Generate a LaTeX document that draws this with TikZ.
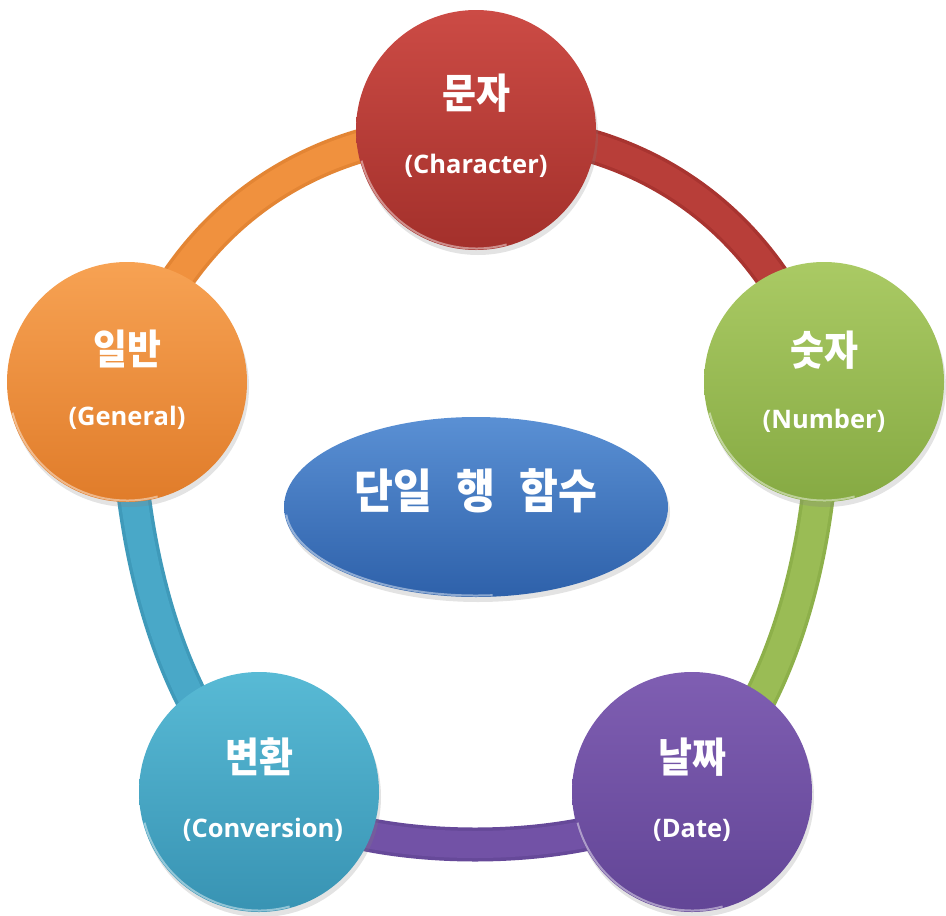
\documentclass[tikz,border=0pt]{standalone}
\usepackage{fontspec}
\newfontfamily\kr{Noto Sans CJK KR}[FakeStretch=0.9]
\newfontfamily\en{Open Sans}
\usetikzlibrary{shapes.geometric,shadows}
\definecolor{redT}{HTML}{CC4B45}\definecolor{redB}{HTML}{A3302B}\definecolor{redL}{HTML}{B83E39}\definecolor{redD}{HTML}{A83430}
\definecolor{grnT}{HTML}{AACA64}\definecolor{grnB}{HTML}{86AA43}\definecolor{grnL}{HTML}{9ABC55}\definecolor{grnD}{HTML}{8DB04A}
\definecolor{purT}{HTML}{7F5EB2}\definecolor{purB}{HTML}{624596}\definecolor{purL}{HTML}{7252A6}\definecolor{purD}{HTML}{664999}
\definecolor{cyaT}{HTML}{58BAD5}\definecolor{cyaB}{HTML}{3893B3}\definecolor{cyaL}{HTML}{49A8C8}\definecolor{cyaD}{HTML}{3F9ABA}
\definecolor{oraT}{HTML}{F7A253}\definecolor{oraB}{HTML}{E07C2A}\definecolor{oraL}{HTML}{F0913E}\definecolor{oraD}{HTML}{E38534}
\definecolor{bluT}{HTML}{5A90D4}\definecolor{bluB}{HTML}{2E61AA}
\tikzset{
  x=1pt, y=1pt,
  ball/.style={circle, minimum size=240pt, inner sep=0pt, draw=none,
    drop shadow={shadow xshift=2pt, shadow yshift=-5pt, opacity=0.22}},
  hubshape/.style={ellipse, minimum width=384pt, minimum height=180pt, inner sep=0pt, draw=none,
    top color=bluT, bottom color=bluB,
    drop shadow={shadow xshift=2pt, shadow yshift=-5pt, opacity=0.22}},
  bandout/.style={line width=34pt},
  bandin/.style={line width=27pt},
  rim/.style={draw=white, opacity=0.45, line width=2pt},
  kor/.style={text=white, inner sep=0pt, font=\kr\bfseries\fontsize{41}{45}\selectfont},
  eng/.style={text=white, inner sep=0pt, font=\en\bfseries\fontsize{25.5}{30}\selectfont},
  hubtext/.style={text=white, inner sep=0pt, font=\kr\bfseries\fontsize{47}{52}\selectfont},
}
\begin{document}
\begin{tikzpicture}
\useasboundingbox (0,0) rectangle (946,-916);
% node positions
\coordinate (p1) at (476,-130);
\coordinate (p2) at (824,-382);
\coordinate (p3) at (692,-792);
\coordinate (p4) at (259,-792);
\coordinate (p5) at (127,-382);
% bands
\draw[bandout, redD] (p1) to[bend left=36] (p2);
\draw[bandin, redL] (p1) to[bend left=36] (p2);
\draw[bandout, grnD] (p2) .. controls (826,-560) and (775,-715) .. (p3);
\draw[bandin, grnL] (p2) .. controls (826,-560) and (775,-715) .. (p3);
\draw[bandout, purD] (p3) .. controls (600,-862) and (350,-862) .. (p4);
\draw[bandin, purL] (p3) .. controls (600,-862) and (350,-862) .. (p4);
\draw[bandout, cyaD] (p4) .. controls (177,-715) and (126,-560) .. (p5);
\draw[bandin, cyaL] (p4) .. controls (177,-715) and (126,-560) .. (p5);
\draw[bandout, oraD] (p5) to[bend left=36] (p1);
\draw[bandin, oraL] (p5) to[bend left=36] (p1);
% circles
\node[ball, top color=redT, bottom color=redB] (c1) at (p1) {};
\node[ball, top color=grnT, bottom color=grnB] (c2) at (p2) {};
\node[ball, top color=purT, bottom color=purB] (c3) at (p3) {};
\node[ball, top color=cyaT, bottom color=cyaB] (c4) at (p4) {};
\node[ball, top color=oraT, bottom color=oraB] (c5) at (p5) {};
\foreach \c in {c1,c2,c3,c4,c5}{
  \draw[rim] (\c.center) ++(195:118.5) arc[start angle=195, end angle=285, radius=118.5];
}
% hub
\node[hubshape] (hub) at (476,-507) {};
\draw[rim] (hub.center) ++(185:190.5 and 88.5) arc[start angle=185, end angle=275, x radius=190.5, y radius=88.5];
\node[hubtext] (ht) at (476,-491) {단일\hspace{24pt}행\hspace{24pt}함수};
% labels
\node[kor] (k1) at ([yshift=37pt]c1.center) {문자};
\node[eng] (e1) at ([yshift=-36pt]c1.center) {(Character)};
\node[kor] (k2) at ([yshift=32pt]c2.center) {숫자};
\node[eng] (e2) at ([yshift=-39pt]c2.center) {(Number)};
\node[kor] (k3) at ([yshift=35pt]c3.center) {날짜};
\node[eng] (e3) at ([yshift=-38pt]c3.center) {(Date)};
\node[kor] (k4) at ([yshift=35pt]c4.center) {변환};
\node[eng] (e4) at ([xshift=4pt,yshift=-38pt]c4.center) {(Conversion)};
\node[kor] (k5) at ([yshift=33pt]c5.center) {일반};
\node[eng] (e5) at ([yshift=-36pt]c5.center) {(General)};
\end{tikzpicture}
\end{document}
